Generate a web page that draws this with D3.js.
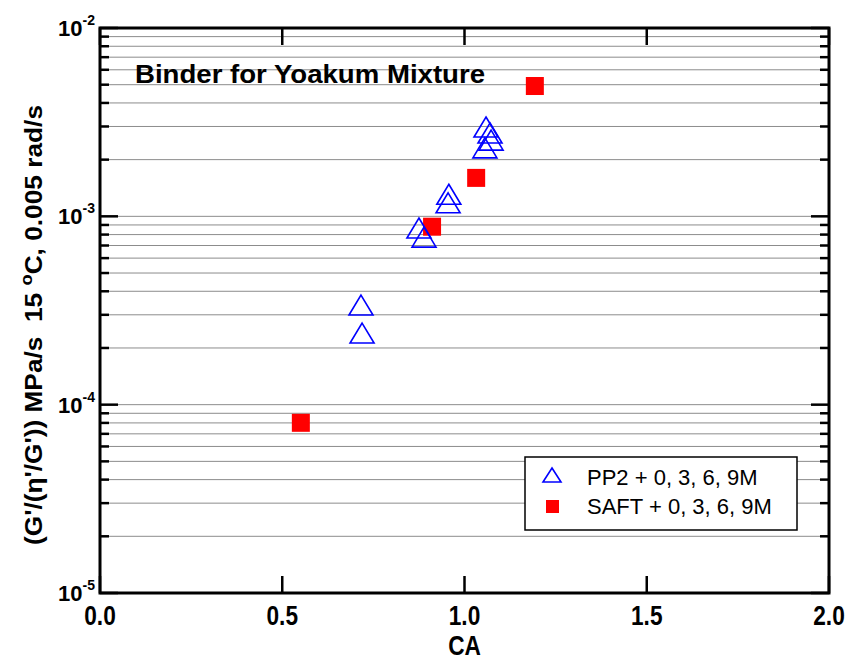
<!DOCTYPE html>
<html>
<head>
<meta charset="utf-8">
<script src="https://cdn.jsdelivr.net/npm/d3@7"></script>
<style>
  body { margin: 0; background: #fff; }
  text { font-family: "Liberation Sans", Arial, sans-serif; }
</style>
</head>
<body>
<script>
// PP2 + 0, 3, 6, 9M (open triangles)
var pp2CA = [1.059, 1.070, 1.073, 1.056, 0.957, 0.955, 0.875, 0.889, 0.716, 0.719];
var pp2Val = [2.98e-3, 2.77e-3, 2.54e-3, 2.31e-3, 1.31e-3, 1.18e-3, 8.67e-4, 7.76e-4, 3.38e-4, 2.40e-4];

// SAFT + 0, 3, 6, 9M (filled squares)
var saftCA = [1.193, 1.032, 0.911, 0.551];
var saftVal = [4.92e-3, 1.60e-3, 8.81e-4, 8.01e-5];

var xTicks = [0, 0.5, 1.0, 1.5, 2.0];
var xTickLabels = ["0.0", "0.5", "1.0", "1.5", "2.0"];
var yExps = [-5, -4, -3, -2];
var legendLabels = ["PP2 + 0, 3, 6, 9M", "SAFT + 0, 3, 6, 9M"];

var W = 851, H = 663;
var margin = {top: 28, right: 22, bottom: 70, left: 100};

var x = d3.scaleLinear().domain([0, 2]).range([margin.left, W - margin.right]);
var y = d3.scaleLog().domain([1e-5, 1e-2]).range([H - margin.bottom, margin.top]);

var svg = d3.select("body").append("svg")
    .attr("width", W)
    .attr("height", H);

// minor + major values for grid and ticks
var yAll = [];
yExps.slice(0, 3).forEach(function(e) {
    for (var m = 1; m <= 9; m++) yAll.push(m * Math.pow(10, e));
});
yAll.push(1e-2);

// gridlines
svg.append("g").attr("class", "grid")
    .selectAll("line")
    .data(yAll.filter(function(v) { return v > 1e-5 && v < 1e-2; }))
    .enter().append("line")
    .attr("x1", x(0)).attr("x2", x(2))
    .attr("y1", function(d) { return y(d); })
    .attr("y2", function(d) { return y(d); })
    .attr("stroke", "#8c8c8c")
    .attr("stroke-width", 1);

// y ticks, left and right (inside)
function isMajor(v) {
    var l = Math.log10(v);
    return Math.abs(l - Math.round(l)) < 1e-9;
}
[x(0), x(2)].forEach(function(px, i) {
    var dir = i === 0 ? 1 : -1;
    svg.append("g").selectAll("line")
        .data(yAll)
        .enter().append("line")
        .attr("x1", px)
        .attr("x2", function(d) { return px + dir * (isMajor(d) ? 18 : 9); })
        .attr("y1", function(d) { return y(d); })
        .attr("y2", function(d) { return y(d); })
        .attr("stroke", "#000")
        .attr("stroke-width", 2.5);
});

// x ticks, bottom and top (inside)
[y(1e-5), y(1e-2)].forEach(function(py, i) {
    var dir = i === 0 ? -1 : 1;
    svg.append("g").selectAll("line")
        .data(xTicks)
        .enter().append("line")
        .attr("x1", function(d) { return x(d); })
        .attr("x2", function(d) { return x(d); })
        .attr("y1", py)
        .attr("y2", py + dir * 17)
        .attr("stroke", "#000")
        .attr("stroke-width", 2.5);
});

// frame
svg.append("rect")
    .attr("x", x(0)).attr("y", y(1e-2))
    .attr("width", x(2) - x(0))
    .attr("height", y(1e-5) - y(1e-2))
    .attr("fill", "none")
    .attr("stroke", "#000")
    .attr("stroke-width", 3);

// x tick labels (narrow bold)
svg.append("g").selectAll("g")
    .data(xTicks)
    .enter().append("g")
    .attr("transform", function(d) { return "translate(" + x(d) + "," + (y(1e-5) + 32) + ") scale(0.84,1)"; })
    .append("text")
    .attr("text-anchor", "middle")
    .attr("font-weight", "bold")
    .attr("font-size", 27)
    .text(function(d, i) { return xTickLabels[i]; });

// y tick labels 10^n
var yl = svg.append("g").selectAll("text")
    .data(yExps)
    .enter().append("text")
    .attr("x", x(0) - 5)
    .attr("y", function(d) { return y(Math.pow(10, d)) + 8; })
    .attr("text-anchor", "end")
    .attr("font-weight", "bold")
    .attr("font-size", 22);
yl.append("tspan").text("10");
yl.append("tspan")
    .attr("dy", -11)
    .attr("font-size", 14)
    .text(function(d) { return d; });

// x axis title
svg.append("g")
    .attr("transform", "translate(" + x(1) + "," + 655 + ") scale(0.84,1)")
    .append("text")
    .attr("text-anchor", "middle")
    .attr("font-weight", "bold")
    .attr("font-size", 27)
    .text("CA");

// y axis title
var yt = svg.append("text")
    .attr("transform", "translate(42,325) rotate(-90)")
    .attr("text-anchor", "middle")
    .attr("font-weight", "bold")
    .attr("font-size", 23)
    .attr("textLength", 440)
    .attr("lengthAdjust", "spacingAndGlyphs");
yt.append("tspan").text("(G'/(\u03b7'/G')) MPa/s\u00a0\u00a015 ");
yt.append("tspan").attr("dy", -10).attr("font-size", 16).text("o");
yt.append("tspan").attr("dy", 10).text("C, 0.005 rad/s");

// chart title
svg.append("text")
    .attr("x", 135).attr("y", 83)
    .attr("font-weight", "bold")
    .attr("font-size", 25)
    .attr("textLength", 350)
    .attr("lengthAdjust", "spacingAndGlyphs")
    .text("Binder for Yoakum Mixture");

// markers
function triPath(cx, cy, hw, hh) {
    return "M" + cx + "," + (cy - hh) + "L" + (cx + hw) + "," + (cy + hh) + "L" + (cx - hw) + "," + (cy + hh) + "Z";
}

svg.append("g").selectAll("rect")
    .data(saftCA)
    .enter().append("rect")
    .attr("x", function(d) { return x(d) - 9; })
    .attr("y", function(d, i) { return y(saftVal[i]) - 9; })
    .attr("width", 18).attr("height", 18)
    .attr("fill", "#ff0000");

svg.append("g").selectAll("path")
    .data(pp2CA)
    .enter().append("path")
    .attr("d", function(d, i) { return triPath(x(d), y(pp2Val[i]), 12, 10); })
    .attr("fill", "none")
    .attr("stroke", "#0000ff")
    .attr("stroke-width", 1.6);

// legend
var lg = svg.append("g");
lg.append("rect")
    .attr("x", 525).attr("y", 457)
    .attr("width", 272).attr("height", 73)
    .attr("fill", "#fff")
    .attr("stroke", "#000")
    .attr("stroke-width", 1.5);
lg.append("path")
    .attr("d", triPath(552, 475, 9, 7))
    .attr("fill", "none")
    .attr("stroke", "#0000ff")
    .attr("stroke-width", 1.6);
lg.append("rect")
    .attr("x", 546).attr("y", 500)
    .attr("width", 13).attr("height", 13)
    .attr("fill", "#ff0000");
lg.selectAll("text.lab")
    .data(legendLabels)
    .enter().append("text")
    .attr("class", "lab")
    .attr("x", 587)
    .attr("y", function(d, i) { return 485 + i * 29; })
    .attr("font-size", 22)
    .text(function(d) { return d; });
</script>
</body>
</html>
